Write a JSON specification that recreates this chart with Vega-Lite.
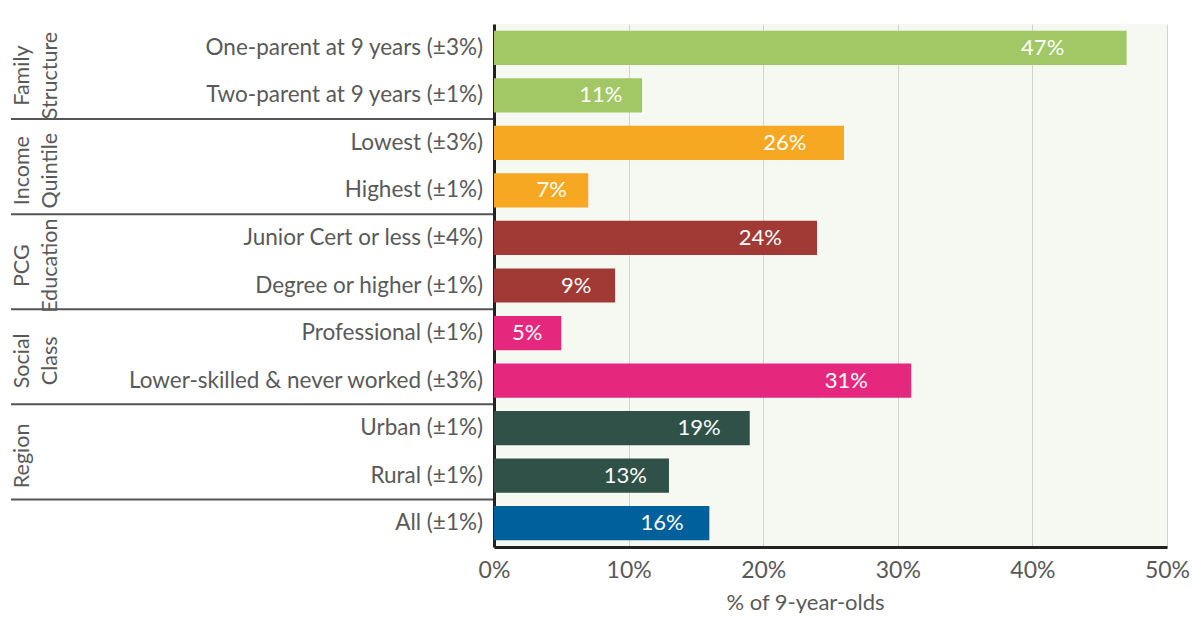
{
  "$schema": "https://vega.github.io/schema/vega-lite/v6.json",
  "background": "white",
  "padding": {"left": 10, "top": 24, "right": 5, "bottom": 0},
  "bounds": "flush",
  "config": {"font": "Lato", "view": {"stroke": null}, "concat": {"spacing": 0}},
  "datasets": {
    "bars": [
      {"category": "One-parent at 9 years (±3%)", "group": "Family Structure", "value": 47},
      {"category": "Two-parent at 9 years (±1%)", "group": "Family Structure", "value": 11},
      {"category": "Lowest (±3%)", "group": "Income Quintile", "value": 26},
      {"category": "Highest (±1%)", "group": "Income Quintile", "value": 7},
      {"category": "Junior Cert or less (±4%)", "group": "PCG Education", "value": 24},
      {"category": "Degree or higher (±1%)", "group": "PCG Education", "value": 9},
      {"category": "Professional (±1%)", "group": "Social Class", "value": 5},
      {"category": "Lower-skilled & never worked (±3%)", "group": "Social Class", "value": 31},
      {"category": "Urban (±1%)", "group": "Region", "value": 19},
      {"category": "Rural (±1%)", "group": "Region", "value": 13},
      {"category": "All (±1%)", "group": "All", "value": 16}
    ],
    "groups": [
      {"group": "Family Structure", "lines": ["Family", "Structure"], "first": "One-parent at 9 years (±3%)", "last": "Two-parent at 9 years (±1%)"},
      {"group": "Income Quintile", "lines": ["Income", "Quintile"], "first": "Lowest (±3%)", "last": "Highest (±1%)"},
      {"group": "PCG Education", "lines": ["PCG", "Education"], "first": "Junior Cert or less (±4%)", "last": "Degree or higher (±1%)"},
      {"group": "Social Class", "lines": ["Social", "Class"], "first": "Professional (±1%)", "last": "Lower-skilled & never worked (±3%)"},
      {"group": "Region", "lines": ["Region"], "first": "Urban (±1%)", "last": "Rural (±1%)"}
    ]
  },
  "spacing": 0,
  "hconcat": [
    {
      "width": 483,
      "height": 523,
      "layer": [
        {
          "data": {"name": "groups"},
          "mark": {"type": "rule", "color": "#555555", "strokeWidth": 2},
          "encoding": {
            "y": {"field": "last", "type": "nominal", "bandPosition": 1,
                  "scale": {"domain": ["One-parent at 9 years (±3%)", "Two-parent at 9 years (±1%)", "Lowest (±3%)", "Highest (±1%)", "Junior Cert or less (±4%)", "Degree or higher (±1%)", "Professional (±1%)", "Lower-skilled & never worked (±3%)", "Urban (±1%)", "Rural (±1%)", "All (±1%)"], "paddingInner": 0, "paddingOuter": 0},
                  "axis": null},
            "x": {"datum": 0, "type": "quantitative", "scale": {"domain": [0, 1]}, "axis": null},
            "x2": {"datum": 1}
          }
        },
        {
          "data": {"name": "groups"},
          "mark": {"type": "text", "angle": 270, "align": "center", "baseline": "top", "fontSize": 21.5, "lineHeight": 28, "color": "#595959", "dy": 1, "dx": -4},
          "encoding": {
            "y": {"field": "last", "type": "nominal", "bandPosition": 0},
            "x": {"datum": 0, "type": "quantitative"},
            "text": {"field": "lines"}
          }
        },
        {
          "data": {"name": "bars"},
          "mark": {"type": "text", "align": "right", "baseline": "middle", "fontSize": 22.5, "color": "#595959", "dx": -11},
          "encoding": {
            "y": {"field": "category", "type": "nominal", "bandPosition": 0.5},
            "x": {"datum": 1, "type": "quantitative"},
            "text": {"field": "category"}
          }
        }
      ]
    },
    {
      "width": 673,
      "height": 523,
      "view": {"fill": "#f6f8f2", "stroke": null},
      "data": {"name": "bars"},
      "transform": [
        {"calculate": "datum.value + '%'", "as": "pct"},
        {"calculate": "datum.value * 0.912 - 2.1", "as": "labelPos"}
      ],
      "layer": [
        {
          "mark": {"type": "bar", "height": {"band": 0.72}},
          "encoding": {
            "y": {"field": "category", "type": "nominal",
                  "scale": {"domain": ["One-parent at 9 years (±3%)", "Two-parent at 9 years (±1%)", "Lowest (±3%)", "Highest (±1%)", "Junior Cert or less (±4%)", "Degree or higher (±1%)", "Professional (±1%)", "Lower-skilled & never worked (±3%)", "Urban (±1%)", "Rural (±1%)", "All (±1%)"], "paddingInner": 0, "paddingOuter": 0},
                  "axis": {"labels": false, "ticks": false, "domain": true, "domainColor": "#222222", "domainWidth": 3, "title": null, "grid": false, "minExtent": 0, "maxExtent": 0, "offset": 0}},
            "x": {"field": "value", "type": "quantitative",
                  "scale": {"domain": [0, 50]},
                  "axis": {"values": [0, 10, 20, 30, 40, 50], "labelExpr": "datum.value + '%'", "labelFontSize": 23, "labelColor": "#595959", "labelPadding": 12, "labelFlush": false, "ticks": false, "domainColor": "#222222", "domainWidth": 3, "grid": true, "gridColor": "#d2d2d2", "gridWidth": 1, "title": "% of 9-year-olds", "titleFontSize": 22, "titleFontWeight": "normal", "titleColor": "#595959", "titlePadding": 10, "titleX": 311}},
            "color": {"field": "group", "type": "nominal",
                      "scale": {"domain": ["Family Structure", "Income Quintile", "PCG Education", "Social Class", "Region", "All"], "range": ["#a2c865", "#f7a823", "#a13a34", "#e5287e", "#2f5148", "#00609c"]},
                      "legend": null}
          }
        },
        {
          "mark": {"type": "text", "align": "center", "baseline": "middle", "fontSize": 22, "color": "white"},
          "encoding": {
            "y": {"field": "category", "type": "nominal", "bandPosition": 0.5},
            "x": {"field": "labelPos", "type": "quantitative"},
            "text": {"field": "pct"}
          }
        }
      ]
    }
  ]
}
